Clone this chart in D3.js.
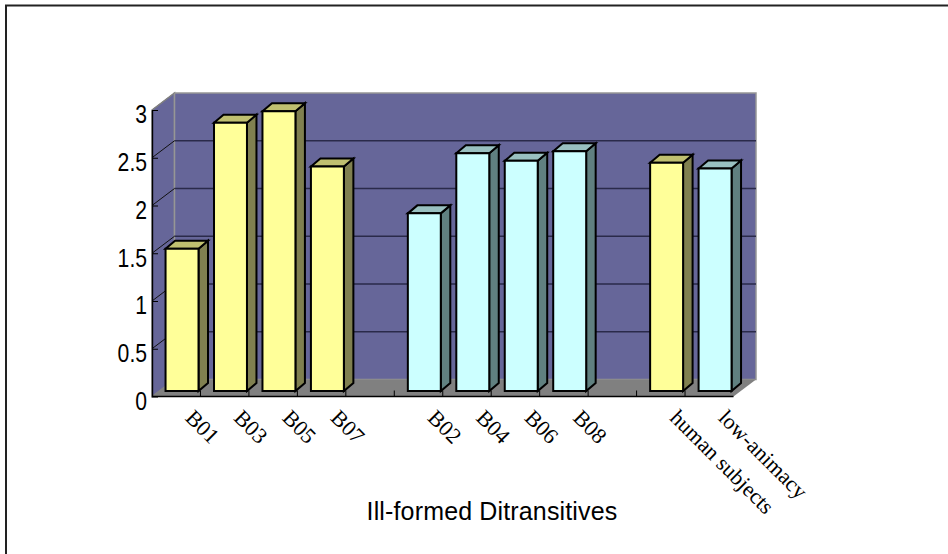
<!DOCTYPE html>
<html><head><meta charset="utf-8">
<script src="https://cdnjs.cloudflare.com/ajax/libs/d3/7.8.5/d3.min.js"></script>
<style>html,body{margin:0;padding:0;background:#fff}svg{display:block}</style></head>
<body><div id="c"></div>
<script>
const categories = ["B01","B03","B05","B07"," ","B02","B04","B06","B08","  ","human subjects","low-animacy"];
const values = [1.49,2.81,2.93,2.35,null,1.86,2.49,2.41,2.51,null,2.39,2.33];
const groups = ["h","h","h","h",null,"l","l","l","l",null,"h","l"];
const yTicks = [0,0.5,1,1.5,2,2.5,3];
const W=948,H=554;
const svg=d3.select("#c").append("svg").attr("width",W).attr("height",H);
svg.append("path").attr("d",`M6,${H}V5.5H${W}`).attr("fill","none").attr("stroke","#222").attr("stroke-width",2);
const x=d3.scaleBand().domain(categories).range([152,733.5]).paddingInner(0.32).paddingOuter(0.16);
const slot=d3.scaleBand().domain(categories).range([152,733.5]);
const y=d3.scaleLinear().domain([0,3]).range([396.5,110]);
const dx=22.5,dy=-17;
const barDx=5.8,barDy=-5.5,bd=[9.5,-8];
const R=733.5;
const pal={h:{f:"#ffff99",s:"#808050",t:"#c0c070"},l:{f:"#ccffff",s:"#608080",t:"#99c0c0"}};
// walls
svg.append("path").attr("d",`M${152},${y(3)}L${152+dx},${y(3)+dy}L${152+dx},${y(0)+dy}L152,${y(0)}Z`).attr("fill","#666699").attr("stroke","#808080").attr("stroke-width",1.5);
svg.append("rect").attr("x",152+dx).attr("y",y(3)+dy).attr("width",R-152).attr("height",y(0)-y(3)).attr("fill","#666699").attr("stroke","#969696").attr("stroke-width",1.5);
svg.append("path").attr("d",`M152,${y(0)}L${152+dx},${y(0)+dy}L${R+dx},${y(0)+dy}L${R},${y(0)}Z`).attr("fill","#808080");
// grid
yTicks.slice(1).forEach(t=>{
  if(t<3) svg.append("line").attr("x1",152+dx).attr("x2",R+dx).attr("y1",y(t)+dy).attr("y2",y(t)+dy).attr("stroke","#2a2a4a").attr("stroke-width",1.5);
  svg.append("line").attr("x1",152).attr("x2",152+dx).attr("y1",y(t)).attr("y2",y(t)+dy).attr("stroke",t<3?"#111":"#808080");
});
// axes
const ax=svg.append("g").attr("transform","translate(152,0)").call(d3.axisLeft(y).tickValues(yTicks).tickSize(-6).tickSizeOuter(0).tickFormat(d=>d));
ax.select(".domain").attr("stroke","#000").attr("stroke-width",1.4);
ax.selectAll("line").attr("stroke","#000");
ax.selectAll("text").attr("font-family","'Liberation Sans',Arial,sans-serif").attr("font-size",25.5).attr("fill","#000").attr("x",-6).attr("dy","0.5em").attr("transform","scale(0.83,1)");
svg.append("line").attr("x1",152).attr("x2",R).attr("y1",y(0)).attr("y2",y(0)).attr("stroke","#000").attr("stroke-width",1.6);
categories.slice(0,-1).forEach(c=>{
  const tx=slot(c)+slot.bandwidth();
  svg.append("line").attr("x1",tx).attr("x2",tx).attr("y1",y(0)).attr("y2",y(0)-6).attr("stroke","#000");
});
// bars
const base=y(0)+barDy;
const bars=svg.append("g").selectAll("g").data(categories.map((c,i)=>({c,v:values[i],g:groups[i]})).filter(d=>d.v!=null)).join("g");
bars.each(function(d){
  const g=d3.select(this),x0=x(d.c)+barDx,w=x.bandwidth(),yt=base-(y(0)-y(d.v));
  const add=(p,f)=>g.append("path").attr("d",p).attr("fill",f).attr("stroke","#000").attr("stroke-width",2).attr("stroke-linejoin","miter");
  add(`M${x0+w},${yt}L${x0+w+bd[0]},${yt+bd[1]}L${x0+w+bd[0]},${base+bd[1]}L${x0+w},${base}Z`,pal[d.g].s);
  add(`M${x0},${yt}L${x0+bd[0]},${yt+bd[1]}L${x0+w+bd[0]},${yt+bd[1]}L${x0+w},${yt}Z`,pal[d.g].t);
  add(`M${x0},${yt}H${x0+w}V${base}H${x0}Z`,pal[d.g].f);
});
// x labels
categories.forEach((c,i)=>{
  if(values[i]==null) return;
  const cx=slot(c)+slot.bandwidth()/2+8;
  svg.append("text").attr("transform",`translate(${cx},${419}) rotate(45)`).attr("font-family","'Liberation Serif','Times New Roman',serif").attr("font-size",22).attr("fill","#000").text(c);
});
svg.append("text").attr("x",492).attr("y",520).attr("text-anchor","middle").attr("font-family","'Liberation Sans',Arial,sans-serif").attr("font-size",25).attr("letter-spacing",0.15).attr("fill","#000").text("Ill-formed Ditransitives");
</script></body></html>
